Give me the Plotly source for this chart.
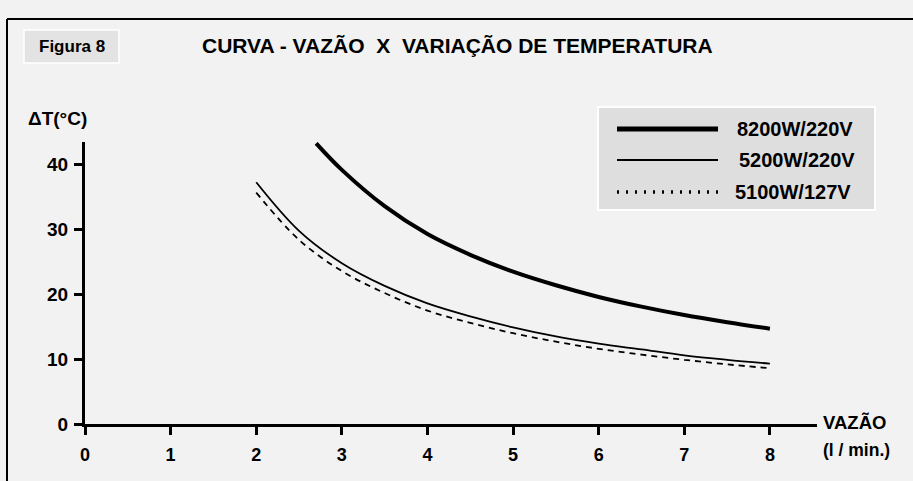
import plotly.graph_objects as go

# ---- data ----
x_8200 = [2.70, 3.0, 3.5, 4.0, 4.5, 5.0, 5.5, 6.0, 6.5, 7.0, 7.5, 8.0]
y_8200 = [43.3, 39.2, 33.6, 29.3, 26.1, 23.5, 21.4, 19.6, 18.1, 16.8, 15.7, 14.7]

x_5200 = [2.0, 2.5, 3.0, 3.5, 4.0, 4.5, 5.0, 5.5, 6.0, 6.5, 7.0, 7.5, 8.0]
y_5200 = [37.3, 29.8, 24.8, 21.3, 18.6, 16.6, 14.9, 13.5, 12.4, 11.5, 10.6, 9.9, 9.3]

x_5100 = [2.0, 2.5, 3.0, 3.5, 4.0, 4.5, 5.0, 5.5, 6.0, 6.5, 7.0, 7.5, 8.0]
y_5100 = [35.7, 28.4, 23.6, 20.2, 17.5, 15.6, 14.0, 12.7, 11.6, 10.7, 9.9, 9.2, 8.6]

series_names = ["8200W/220V", "5200W/220V", "5100W/127V"]
x_ticks = [0, 1, 2, 3, 4, 5, 6, 7, 8]
y_ticks = [0, 10, 20, 30, 40]

title_text = "CURVA - VAZÃO \u00a0X \u00a0VARIAÇÃO DE TEMPERATURA"
figure_label = "Figura 8"
y_label = "ΔT(°C)"
x_label_1 = "VAZÃO"
x_label_2 = "(l / min.)"

# ---- layout geometry ----
W, H = 913, 481
L, R, T, B = 85, 96, 142, 57
PW, PH = W - L - R, H - T - B

def px(x):
    return (x - L) / PW

def py(y):
    return (H - B - y) / PH

BG = "#f2f2f2"
FONT = "Liberation Sans, Arial, sans-serif"

fig = go.Figure()
fig.add_trace(go.Scatter(x=x_8200, y=y_8200, mode="lines", name=series_names[0],
                         line=dict(color="black", width=4, shape="spline"), showlegend=False))
fig.add_trace(go.Scatter(x=x_5200, y=y_5200, mode="lines", name=series_names[1],
                         line=dict(color="black", width=1.8, shape="spline"), showlegend=False))
fig.add_trace(go.Scatter(x=x_5100, y=y_5100, mode="lines", name=series_names[2],
                         line=dict(color="black", width=1.8, shape="spline", dash="6px,5px"),
                         showlegend=False))

shapes = []
# outer frame (top and left)
shapes.append(dict(type="line", xref="paper", yref="paper", x0=px(7), x1=px(W + 5), y0=py(19), y1=py(19),
                   line=dict(color="black", width=2)))
shapes.append(dict(type="line", xref="paper", yref="paper", x0=px(7), x1=px(7), y0=py(19), y1=py(H + 5),
                   line=dict(color="black", width=2)))
# Figura 8 box
shapes.append(dict(type="rect", xref="paper", yref="paper", x0=px(24), x1=px(119), y0=py(30), y1=py(63),
                   fillcolor="#e3e3e3", line=dict(color="white", width=1.5), layer="below"))
# legend box
shapes.append(dict(type="rect", xref="paper", yref="paper", x0=px(598), x1=px(875), y0=py(107), y1=py(210),
                   fillcolor="#dedede", line=dict(color="white", width=2)))
leg_rows = [129, 160, 192]
leg_styles = [dict(width=5, dash="solid"), dict(width=2, dash="solid"), dict(width=3.5, dash="2px,7px")]
for yy, st in zip(leg_rows, leg_styles):
    shapes.append(dict(type="line", xref="paper", yref="paper", x0=px(617), x1=px(718), y0=py(yy), y1=py(yy),
                       line=dict(color="black", **st)))

annotations = []
annotations.append(dict(text=title_text, xref="paper", yref="paper", x=px(458), y=py(45),
                        showarrow=False, xanchor="center", yanchor="middle",
                        font=dict(family=FONT, size=21, color="black", weight="bold")))
annotations.append(dict(text=figure_label, xref="paper", yref="paper", x=px(72), y=py(47),
                        showarrow=False, xanchor="center", yanchor="middle",
                        font=dict(family=FONT, size=17, color="black", weight="bold")))
annotations.append(dict(text=y_label, xref="paper", yref="paper", x=px(57), y=py(118),
                        showarrow=False, xanchor="center", yanchor="middle",
                        font=dict(family=FONT, size=19, color="black", weight="bold")))
annotations.append(dict(text=x_label_1, xref="paper", yref="paper", x=px(821), y=py(422),
                        showarrow=False, xanchor="left", yanchor="middle",
                        font=dict(family=FONT, size=18.5, color="black", weight="bold")))
annotations.append(dict(text=x_label_2, xref="paper", yref="paper", x=px(821), y=py(450),
                        showarrow=False, xanchor="left", yanchor="middle",
                        font=dict(family=FONT, size=17.5, color="black", weight="bold")))
for yy, nm, xx in zip(leg_rows, series_names, [735, 737, 733]):
    annotations.append(dict(text=nm, xref="paper", yref="paper", x=px(xx), y=py(yy),
                            showarrow=False, xanchor="left", yanchor="middle",
                            font=dict(family=FONT, size=20, color="black", weight="bold")))

fig.update_layout(
    width=W, height=H,
    margin=dict(l=L, r=R, t=T, b=B, pad=0),
    paper_bgcolor=BG, plot_bgcolor=BG,
    showlegend=False,
    shapes=shapes,
    annotations=annotations,
    xaxis=dict(range=[0, 8.55], tickvals=x_ticks, ticktext=[str(v) for v in x_ticks],
               showline=True, linecolor="black", linewidth=3, ticks="outside", ticklen=8,
               tickwidth=3, tickcolor="black", showgrid=False, zeroline=False,
               ticklabelstandoff=4,
               tickfont=dict(family=FONT, size=18, color="black", weight="bold")),
    yaxis=dict(range=[0, 43.5], tickvals=y_ticks, ticktext=[str(v) for v in y_ticks],
               showline=True, linecolor="black", linewidth=3, ticks="outside", ticklen=8,
               tickwidth=3, tickcolor="black", showgrid=False, zeroline=False,
               ticklabelstandoff=2,
               tickfont=dict(family=FONT, size=19, color="black", weight="bold")),
)

fig.write_html("out.html", config={"displayModeBar": False},
               post_script="document.body.style.margin='0';document.body.style.background='#f2f2f2';")
